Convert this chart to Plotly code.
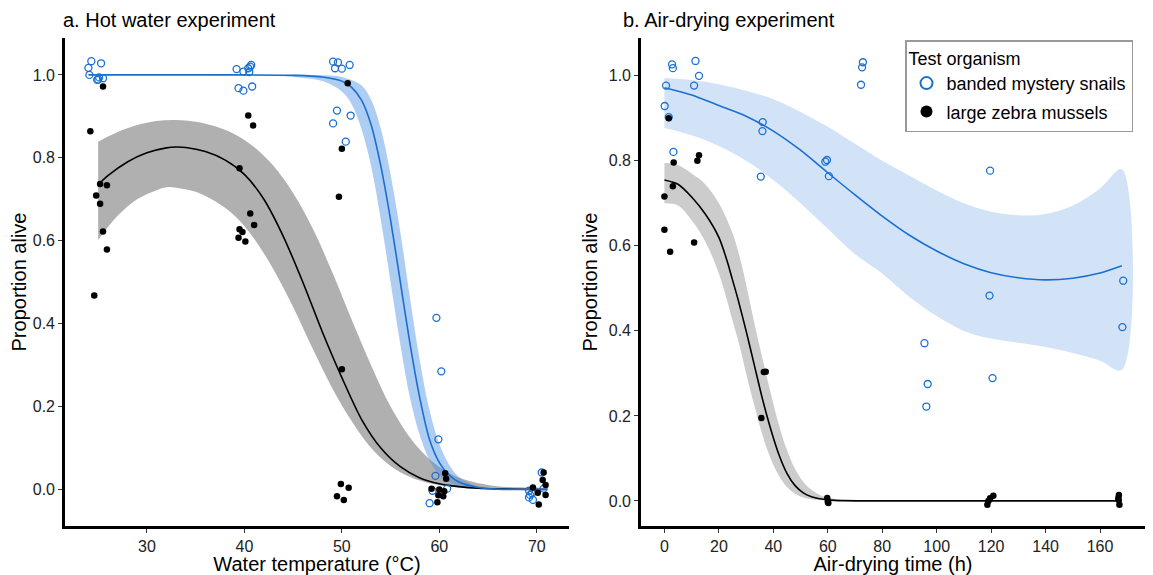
import plotly.graph_objects as go

# ---------------- Panel a: hot water experiment ----------------
hw_snail_temp = [24.3, 25.3, 24.0, 24.1, 25.0, 25.1, 25.5, 24.9,
                 39.2, 39.9, 40.4, 40.7, 40.5, 40.6, 39.4, 39.9, 40.8,
                 49.1, 49.6, 49.3, 50.0, 50.8, 49.5, 50.9, 49.1, 50.4,
                 59.7, 60.2, 59.9, 59.6, 59.3, 60.8, 59.0,
                 70.5, 70.7, 69.2, 69.3, 69.5, 69.2, 69.6]
hw_snail_prop = [1.033, 1.028, 1.017, 1.000, 0.989, 0.994, 0.992, 0.988,
                 1.014, 1.008, 1.016, 1.024, 1.007, 1.020, 0.968, 0.962, 0.972,
                 1.032, 1.030, 1.016, 1.015, 1.024, 0.914, 0.902, 0.883, 0.839,
                 0.414, 0.285, 0.121, 0.033, -0.003, 0.002, -0.033,
                 0.041, 0.002, -0.003, -0.013, -0.009, -0.019, -0.025]

hw_mussel_temp = [25.5, 24.2, 25.2, 25.9, 24.8, 25.2, 25.5, 25.9, 24.6,
                  40.4, 40.9, 39.5, 40.6, 41.0, 39.5, 39.8, 39.4, 40.1,
                  50.6, 50.0, 49.7, 50.0, 49.9, 50.7, 49.5, 50.2,
                  60.6, 60.7, 59.2, 60.0, 60.5, 59.9, 60.4, 59.8,
                  70.7, 70.6, 70.9, 69.6, 70.1, 70.9, 70.2]
hw_mussel_prop = [0.972, 0.864, 0.737, 0.734, 0.709, 0.689, 0.622, 0.579, 0.468,
                  0.902, 0.878, 0.775, 0.666, 0.638, 0.628, 0.621, 0.607, 0.598,
                  0.980, 0.822, 0.706, 0.290, 0.013, 0.004, -0.016, -0.025,
                  0.039, 0.026, 0.002, 0.000, -0.004, -0.014, -0.016, -0.031,
                  0.041, 0.023, 0.011, 0.005, -0.008, -0.013, -0.036]

# fitted curve (snails)
hw_snail_fit_t = [24, 30, 40, 45, 48, 50, 51, 52, 53, 54, 55, 56, 57, 58, 59, 60, 61, 62, 64, 66, 71]
hw_snail_fit_p = [1.0, 1.0, 1.0, 0.999, 0.995, 0.985, 0.97, 0.94, 0.88, 0.78, 0.65, 0.5, 0.35,
                  0.22, 0.12, 0.065, 0.035, 0.018, 0.005, 0.001, 0.0]
hw_snail_hi_t = [24, 40, 48, 50, 52, 53, 54, 55, 56, 57, 58, 59, 60, 61, 62, 63, 64, 66, 71]
hw_snail_hi_p = [1.0, 1.0, 0.999, 0.995, 0.975, 0.94, 0.87, 0.76, 0.62, 0.46, 0.31, 0.19, 0.11,
                 0.06, 0.03, 0.016, 0.008, 0.002, 0.0]
hw_snail_lo_t = [24, 40, 45, 48, 50, 51, 52, 53, 54, 55, 56, 57, 58, 59, 60, 61, 62, 64, 71]
hw_snail_lo_p = [1.0, 0.999, 0.995, 0.985, 0.96, 0.93, 0.87, 0.78, 0.65, 0.5, 0.35, 0.22, 0.13,
                 0.07, 0.035, 0.018, 0.008, 0.002, 0.0]

# fitted curve (mussels)
hw_mussel_fit_t = [25, 26, 28, 30, 32, 33, 34, 36, 38, 40, 42, 44, 46, 48, 50, 52, 54, 56, 58,
                   60, 62, 64, 66, 68, 71]
hw_mussel_fit_p = [0.735, 0.757, 0.79, 0.812, 0.824, 0.826, 0.825, 0.815, 0.795, 0.76, 0.70,
                   0.61, 0.50, 0.38, 0.27, 0.17, 0.10, 0.055, 0.028, 0.014, 0.007, 0.003,
                   0.0015, 0.0007, 0.0002]
hw_mussel_hi_t = [25, 27, 29, 31, 33, 35, 37, 39, 41, 43, 45, 47, 49, 51, 53, 55, 57, 59, 61,
                  63, 65, 67, 71]
hw_mussel_hi_p = [0.839, 0.862, 0.879, 0.889, 0.891, 0.887, 0.876, 0.857, 0.826, 0.78, 0.715,
                  0.63, 0.525, 0.41, 0.30, 0.20, 0.125, 0.073, 0.04, 0.021, 0.011, 0.006, 0.002]
hw_mussel_lo_t = [25, 27, 29, 31, 32, 33, 35, 37, 39, 41, 43, 45, 47, 49, 51, 53, 55, 57, 59,
                  61, 63, 65, 71]
hw_mussel_lo_p = [0.602, 0.66, 0.70, 0.722, 0.729, 0.728, 0.718, 0.695, 0.66, 0.605, 0.53,
                  0.44, 0.34, 0.245, 0.165, 0.10, 0.057, 0.03, 0.015, 0.007, 0.003, 0.0015, 0.0001]

# ---------------- Panel b: air-drying experiment ----------------
ad_snail_time = [2.8, 3.1, 0.6, 0.1, 1.6, 3.3,
                 11.4, 12.7, 10.9,
                 36.1, 36.0, 35.4,
                 59.1, 59.7, 60.4,
                 72.9, 72.6, 72.2,
                 95.5, 96.7, 96.2,
                 119.6, 119.4, 120.5,
                 168.5, 168.2]
ad_snail_prop = [1.027, 1.018, 0.977, 0.929, 0.903, 0.821,
                 1.035, 1.000, 0.977,
                 0.891, 0.870, 0.763,
                 0.798, 0.802, 0.764,
                 1.032, 1.020, 0.979,
                 0.371, 0.275, 0.222,
                 0.777, 0.483, 0.289,
                 0.518, 0.409]

ad_mussel_time = [1.6, 3.4, 12.7, 12.1, 3.1, 0.0, 0.0, 2.1, 10.9,
                  36.5, 37.2, 35.6,
                  59.8, 60.0, 60.2,
                  118.6, 119.6, 120.8, 119.0,
                  166.7, 166.9, 167.1, 166.8]
ad_mussel_prop = [0.900, 0.796, 0.813, 0.800, 0.740, 0.716, 0.638, 0.586, 0.608,
                  0.303, 0.304, 0.195,
                  0.007, -0.002, -0.005,
                  -0.009, 0.006, 0.012, 0.000,
                  0.006, 0.014, -0.009, 0.002]

ad_snail_fit_t = [0, 10, 20, 30, 40, 50, 60, 70, 80, 90, 100, 110, 120, 130, 140, 150, 160, 168]
ad_snail_fit_p = [0.972, 0.955, 0.93, 0.905, 0.87, 0.825, 0.772, 0.72, 0.67, 0.625, 0.588,
                  0.558, 0.537, 0.525, 0.52, 0.524, 0.536, 0.553]
ad_snail_hi_p = [0.995, 0.99, 0.98, 0.965, 0.945, 0.915, 0.88, 0.84, 0.80, 0.765, 0.73, 0.70,
                 0.68, 0.672, 0.675, 0.695, 0.735, 0.78]
ad_snail_lo_p = [0.877, 0.86, 0.835, 0.80, 0.755, 0.70, 0.64, 0.58, 0.535, 0.48, 0.435, 0.40,
                 0.382, 0.372, 0.362, 0.348, 0.33, 0.308]

ad_mussel_fit_t = [0, 5, 10, 15, 20, 23, 25, 27, 30, 33, 36, 39, 42, 45, 48, 51, 54, 57, 60,
                   66, 75, 90, 168]
ad_mussel_fit_p = [0.755, 0.745, 0.715, 0.675, 0.62, 0.565, 0.52, 0.475, 0.40, 0.32, 0.24,
                   0.17, 0.11, 0.065, 0.036, 0.019, 0.01, 0.005, 0.0025, 0.0006, 0.0001,
                   0.0, 0.0]
ad_mussel_hi_t = [0, 5, 10, 15, 20, 25, 28, 30, 33, 36, 39, 42, 45, 48, 51, 54, 57, 60, 66,
                  75, 90, 168]
ad_mussel_hi_p = [0.795, 0.79, 0.77, 0.745, 0.70, 0.63, 0.565, 0.51, 0.42, 0.335, 0.255, 0.18,
                  0.12, 0.075, 0.045, 0.026, 0.014, 0.008, 0.002, 0.0004, 0.0, 0.0]
ad_mussel_lo_t = [0, 5, 10, 15, 20, 25, 28, 30, 33, 36, 39, 42, 45, 48, 51, 54, 60, 75, 168]
ad_mussel_lo_p = [0.70, 0.695, 0.66, 0.61, 0.535, 0.425, 0.355, 0.30, 0.225, 0.155, 0.10,
                  0.06, 0.033, 0.017, 0.008, 0.004, 0.001, 0.0, 0.0]

x_ticks_a = [30, 40, 50, 60, 70]
x_ticks_b = [0, 20, 40, 60, 80, 100, 120, 140, 160]
y_ticks = [0.0, 0.2, 0.4, 0.6, 0.8, 1.0]

series_names = ["banded mystery snails", "large zebra mussels"]

BLUE = "#1a6fd1"
FONT = "Liberation Sans, Arial, sans-serif"

fig = go.Figure()


def ribbon(xhi, yhi, xlo, ylo, color, xa, ya):
    fig.add_trace(go.Scatter(
        x=list(xhi) + list(xlo)[::-1], y=list(yhi) + list(ylo)[::-1],
        fill="toself", fillcolor=color, line=dict(width=0), mode="lines",
        line_shape="spline", hoverinfo="skip", showlegend=False, xaxis=xa, yaxis=ya))


def curve(x, y, color, xa, ya):
    fig.add_trace(go.Scatter(x=x, y=y, mode="lines", line=dict(color=color, width=1.6,
                             shape="spline", smoothing=0.8),
                             hoverinfo="skip", showlegend=False, xaxis=xa, yaxis=ya))


# panel a
ribbon(hw_mussel_hi_t, hw_mussel_hi_p, hw_mussel_lo_t, hw_mussel_lo_p, "rgba(0,0,0,0.31)", "x", "y")
ribbon(hw_snail_hi_t, hw_snail_hi_p, hw_snail_lo_t, hw_snail_lo_p, "rgba(74,144,226,0.45)", "x", "y")
curve(hw_mussel_fit_t, hw_mussel_fit_p, "black", "x", "y")
curve(hw_snail_fit_t, hw_snail_fit_p, BLUE, "x", "y")
fig.add_trace(go.Scatter(x=hw_snail_temp, y=hw_snail_prop, mode="markers", name=series_names[0],
                         marker=dict(symbol="circle-open", size=7, color=BLUE, line=dict(width=1.3)),
                         legendgroup="s", showlegend=True, xaxis="x", yaxis="y"))
fig.add_trace(go.Scatter(x=hw_mussel_temp, y=hw_mussel_prop, mode="markers", name=series_names[1],
                         marker=dict(symbol="circle", size=6.5, color="black"),
                         legendgroup="m", showlegend=True, xaxis="x", yaxis="y"))

# panel b
ribbon(ad_snail_fit_t, ad_snail_hi_p, ad_snail_fit_t, ad_snail_lo_p, "rgba(74,144,226,0.25)", "x2", "y2")
ribbon(ad_mussel_hi_t, ad_mussel_hi_p, ad_mussel_lo_t, ad_mussel_lo_p, "rgba(0,0,0,0.2)", "x2", "y2")
curve(ad_snail_fit_t, ad_snail_fit_p, BLUE, "x2", "y2")
curve(ad_mussel_fit_t, ad_mussel_fit_p, "black", "x2", "y2")
fig.add_trace(go.Scatter(x=ad_snail_time, y=ad_snail_prop, mode="markers", name=series_names[0],
                         marker=dict(symbol="circle-open", size=7, color=BLUE, line=dict(width=1.3)),
                         legendgroup="s", showlegend=False, xaxis="x2", yaxis="y2"))
fig.add_trace(go.Scatter(x=ad_mussel_time, y=ad_mussel_prop, mode="markers", name=series_names[1],
                         marker=dict(symbol="circle", size=6.5, color="black"),
                         legendgroup="m", showlegend=False, xaxis="x2", yaxis="y2"))

# The page has an 8px body margin, so the figure is 8px smaller and
# positions below are given in page pixels minus 8.
OFF = 8
W, H = 1153 - OFF, 575 - OFF


def px(xp):
    return (xp - OFF) / W


def py(yp):
    return 1 - (yp - OFF) / H


yd = [py(526), py(38)]
axis_common = dict(showline=True, linewidth=2.6, linecolor="black", ticks="outside",
                   ticklen=4, tickwidth=1, tickcolor="#333333", showgrid=False, zeroline=False,
                   tickfont=dict(size=16, color="#222222", family=FONT),
                   title_font=dict(size=20, color="black", family=FONT))

fig.update_layout(
    width=W, height=H, plot_bgcolor="white", paper_bgcolor="white",
    margin=dict(l=0, r=0, t=0, b=0), font=dict(family=FONT),
    xaxis=dict(domain=[px(65), px(569)], range=[21.6, 73.3], tickvals=x_ticks_a,
               title=dict(text="Water temperature (°C)", standoff=2), anchor="y", **axis_common),
    yaxis=dict(domain=yd, range=[-0.088, 1.089], tickvals=y_ticks, tickformat=".1f",
               title=dict(text="Proportion alive", standoff=6), anchor="x", **axis_common),
    xaxis2=dict(domain=[px(641), px(1145)], range=[-8.6, 176.5], tickvals=x_ticks_b,
                title=dict(text="Air-drying time (h)", standoff=2), anchor="y2", **axis_common),
    yaxis2=dict(domain=yd, range=[-0.059, 1.089], tickvals=y_ticks, tickformat=".1f",
                title=dict(text="Proportion alive", standoff=6), anchor="x2", **axis_common),
    legend=dict(x=px(905), y=py(40), xanchor="left", yanchor="top",
                bordercolor="#999999", borderwidth=1.5, bgcolor="white",
                title=dict(text="Test organism", font=dict(size=18, color="black", family=FONT)),
                font=dict(size=18, color="black", family=FONT), itemsizing="constant",
                tracegroupgap=2),
    annotations=[
        dict(text="a. Hot water experiment", x=px(61), y=py(20), xref="paper", yref="paper",
             xanchor="left", yanchor="middle", showarrow=False,
             font=dict(size=20, color="black", family=FONT)),
        dict(text="b. Air-drying experiment", x=px(621), y=py(20), xref="paper", yref="paper",
             xanchor="left", yanchor="middle", showarrow=False,
             font=dict(size=20, color="black", family=FONT)),
    ],
)

fig.write_html("out.html")
